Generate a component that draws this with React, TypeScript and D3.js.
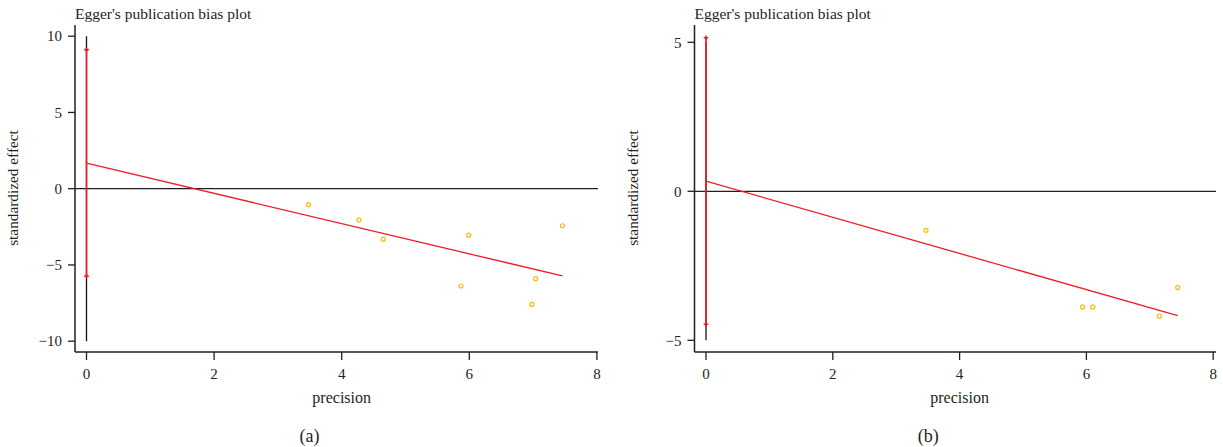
import React, { useRef, useEffect } from 'react';
import * as d3 from 'd3';

// panel (a)
const precisionA = [3.48, 4.27, 4.65, 5.99, 5.87, 7.04, 6.98, 7.46];
const effectA = [-1.05, -2.04, -3.31, -3.05, -6.38, -5.9, -7.59, -2.43];
const fitA = [1.68, -5.72]; // at x=0 and x=7.46
const ciA = [-5.74, 9.12];
const yTicksA = [-10, -5, 0, 5, 10];

// panel (b)
const precisionB = [3.47, 5.94, 6.1, 7.15, 7.44];
const effectB = [-1.31, -3.88, -3.88, -4.19, -3.23];
const fitB = [0.34, -4.17]; // at x=0 and x=7.44
const ciB = [-4.46, 5.15];
const yTicksB = [-5, 0, 5];

const xTicks = [0, 2, 4, 6, 8];

const FONT = '"Liberation Serif", "DejaVu Serif", serif';
const AXIS = '#231f20';

type PanelProps = {
  left: number;
  pxPerUnitX: number;
  yZero: number;
  pxPerUnitY: number;
  yTop: number;
  yBottom: number;
  xRight: number;
  xs: number[];
  ys: number[];
  fit: number[];
  ci: number[];
  yTicks: number[];
  tag: string;
};

function Panel(p: PanelProps) {
  const ref = useRef<SVGGElement>(null);

  useEffect(() => {
    const g = d3.select(ref.current);
    g.selectAll('*').remove();

    const x0 = p.left + 11.5;
    const x = d3.scaleLinear().domain([0, 8]).range([x0, x0 + 8 * p.pxPerUnitX]);
    const y = d3.scaleLinear().domain([0, 1]).range([p.yZero, p.yZero - p.pxPerUnitY]);

    const axisBottom = 352;

    // axis lines
    g.append('line')
      .attr('x1', p.left).attr('x2', p.left)
      .attr('y1', 25).attr('y2', axisBottom)
      .attr('stroke', AXIS).attr('stroke-width', 1.5);
    g.append('line')
      .attr('x1', p.left).attr('x2', p.xRight)
      .attr('y1', axisBottom).attr('y2', axisBottom)
      .attr('stroke', AXIS).attr('stroke-width', 1.5);

    // y ticks
    p.yTicks.forEach((t) => {
      g.append('line')
        .attr('x1', p.left - 7).attr('x2', p.left)
        .attr('y1', y(t)).attr('y2', y(t))
        .attr('stroke', AXIS).attr('stroke-width', 1.3);
      g.append('text')
        .attr('x', p.left - 13).attr('y', y(t)).attr('dy', '0.35em')
        .attr('text-anchor', 'end')
        .attr('font-family', FONT).attr('font-size', 15).attr('fill', AXIS)
        .text(t < 0 ? '\u2212' + Math.abs(t) : String(t));
    });

    // x ticks
    xTicks.forEach((t) => {
      g.append('line')
        .attr('x1', x(t)).attr('x2', x(t))
        .attr('y1', axisBottom).attr('y2', axisBottom + 8)
        .attr('stroke', AXIS).attr('stroke-width', 1.3);
      g.append('text')
        .attr('x', x(t)).attr('y', axisBottom + 22).attr('dy', '0.35em')
        .attr('text-anchor', 'middle')
        .attr('font-family', FONT).attr('font-size', 15).attr('fill', AXIS)
        .text(String(t));
    });

    // zero reference line
    g.append('line')
      .attr('x1', p.left).attr('x2', p.xRight)
      .attr('y1', y(0)).attr('y2', y(0))
      .attr('stroke', AXIS).attr('stroke-width', 1.3);

    // black vertical at precision 0
    g.append('line')
      .attr('x1', x(0)).attr('x2', x(0))
      .attr('y1', y(p.yTop)).attr('y2', y(p.yBottom))
      .attr('stroke', '#111').attr('stroke-width', 1.3);

    // intercept CI
    g.append('line')
      .attr('x1', x(0)).attr('x2', x(0))
      .attr('y1', y(p.ci[0])).attr('y2', y(p.ci[1]))
      .attr('stroke', '#ee1c25').attr('stroke-width', 1.6);
    p.ci.forEach((c) => {
      g.append('path')
        .attr('d', d3.symbol(d3.symbolCross, 12)())
        .attr('transform', `translate(${x(0)},${y(c)})`)
        .attr('fill', '#ee1c25');
    });

    // regression line
    const xEnd = d3.max(p.xs) as number;
    g.append('line')
      .attr('x1', x(0)).attr('y1', y(p.fit[0]))
      .attr('x2', x(xEnd)).attr('y2', y(p.fit[1]))
      .attr('stroke', '#ee1c25').attr('stroke-width', 1.3);

    // studies
    p.xs.forEach((v, i) => {
      g.append('circle')
        .attr('cx', x(v)).attr('cy', y(p.ys[i]))
        .attr('r', 2)
        .attr('fill', 'none')
        .attr('stroke', '#fdb913')
        .attr('stroke-width', 1.2);
    });

    // title + labels
    g.append('text')
      .attr('x', p.left).attr('y', 19)
      .attr('font-family', FONT).attr('font-size', 15.5).attr('fill', AXIS)
      .text("Egger's publication bias plot");
    g.append('text')
      .attr('transform', `translate(${p.left - 57},188) rotate(-90)`)
      .attr('text-anchor', 'middle')
      .attr('font-family', FONT).attr('font-size', 15.3).attr('fill', AXIS)
      .text('standardized effect');
    g.append('text')
      .attr('x', x(4)).attr('y', 403)
      .attr('text-anchor', 'middle')
      .attr('font-family', FONT).attr('font-size', 16).attr('fill', AXIS)
      .text('precision');
    g.append('text')
      .attr('x', (p.left + p.xRight) / 2 - 27).attr('y', 442)
      .attr('text-anchor', 'middle')
      .attr('font-family', FONT).attr('font-size', 18).attr('fill', AXIS)
      .text(p.tag);
  }, [p]);

  return <g ref={ref} />;
}

export default function App() {
  return (
    <svg
      width={1223}
      height={447}
      style={{ position: 'absolute', left: 0, top: 0, background: '#fff' }}
    >
      <Panel
        left={75} pxPerUnitX={63.8} yZero={188.7} pxPerUnitY={15.25}
        yTop={10} yBottom={-10} xRight={598}
        xs={precisionA} ys={effectA} fit={fitA} ci={ciA} yTicks={yTicksA} tag="(a)"
      />
      <Panel
        left={694.5} pxPerUnitX={63.4} yZero={191.3} pxPerUnitY={29.8}
        yTop={5} yBottom={-5} xRight={1216}
        xs={precisionB} ys={effectB} fit={fitB} ci={ciB} yTicks={yTicksB} tag="(b)"
      />
    </svg>
  );
}
